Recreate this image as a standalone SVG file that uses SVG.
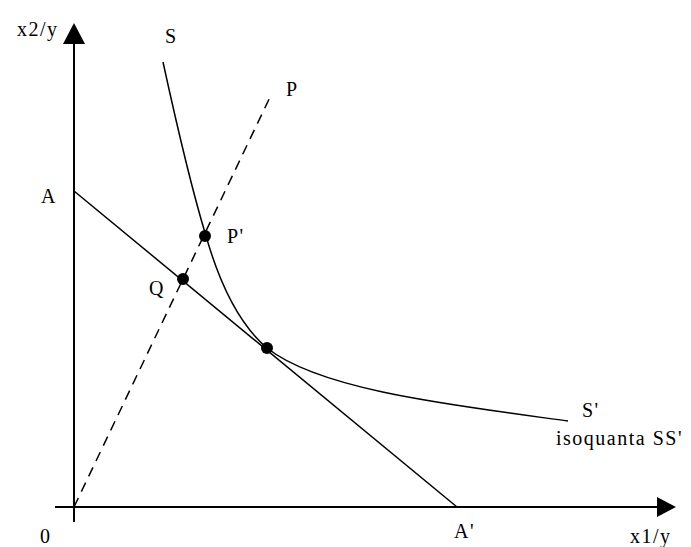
<svg xmlns="http://www.w3.org/2000/svg" width="691" height="547" viewBox="0 0 691 547">
<style>
text{font-family:"Liberation Serif","Times New Roman",serif;font-size:20px;letter-spacing:1.5px;fill:#000}
.ln{stroke:#000;stroke-width:1.5;fill:none}
.ax{stroke:#000;stroke-width:2;fill:none}
.dash{stroke:#000;stroke-width:1.5;fill:none;stroke-dasharray:10,7}
.dot{fill:#000}
</style>
<rect width="691" height="547" fill="#fff"/>
<g id="axes">
<line class="ax" x1="74" y1="522" x2="74" y2="40"/>
<polygon points="74,23 63,44 85,44" fill="#000"/>
<line class="ax" x1="55" y1="507" x2="658" y2="507"/>
<polygon points="676,507 657,497 657,517" fill="#000"/>
</g>
<g id="connectors">
<line id="budget" class="ln" x1="74" y1="191" x2="457" y2="507"/>
<line id="ray" class="dash" x1="74" y1="507" x2="272" y2="93"/>
<path id="isoquant" class="ln" d="M163,62 C180,140 195,200 206,236 C220,285 240,325 267,348 C320,390 450,405 568,421"/>
</g>
<g id="point-Pp"><circle class="dot" cx="205" cy="236" r="6"/><text x="227" y="243">P'</text></g>
<g id="point-Q"><circle class="dot" cx="183" cy="279" r="6"/><text x="149" y="295">Q</text></g>
<g id="point-T"><circle class="dot" cx="267" cy="348" r="6"/></g>
<g id="labels">
<text x="17" y="36">x2/y</text>
<text x="165" y="43">S</text>
<text x="286" y="96">P</text>
<text x="41" y="203">A</text>
<text x="40" y="543">0</text>
<text x="454" y="538">A'</text>
<text x="630" y="543">x1/y</text>
<text x="582" y="417">S'</text>
<text x="556" y="445">isoquanta SS'</text>
</g>
</svg>
